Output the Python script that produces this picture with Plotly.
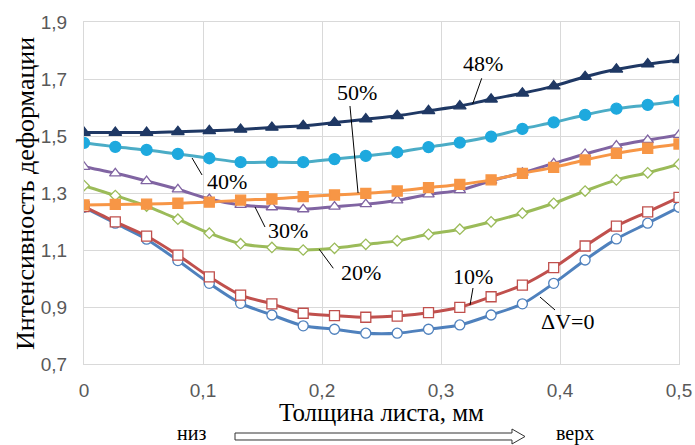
import plotly.graph_objects as go

# Sheet thickness positions, mm
thickness = [0.0, 0.0263, 0.0526, 0.0789, 0.1053, 0.1316, 0.1579, 0.1842, 0.2105, 0.2368,
             0.2632, 0.2895, 0.3158, 0.3421, 0.3684, 0.3947, 0.4211, 0.4474, 0.4737, 0.5]

# Strain intensity for each reduction
dv0 = [1.250, 1.194, 1.138, 1.063, 0.983, 0.913, 0.872, 0.834, 0.822, 0.808,
       0.808, 0.822, 0.837, 0.872, 0.911, 0.983, 1.065, 1.139, 1.194, 1.250]
red10 = [1.252, 1.199, 1.149, 1.082, 1.006, 0.942, 0.911, 0.878, 0.870, 0.864,
         0.868, 0.880, 0.899, 0.936, 0.977, 1.038, 1.114, 1.184, 1.234, 1.285]
red20 = [1.326, 1.291, 1.254, 1.208, 1.159, 1.122, 1.109, 1.100, 1.106, 1.120,
         1.132, 1.155, 1.173, 1.199, 1.229, 1.264, 1.307, 1.346, 1.371, 1.401]
red30 = [1.392, 1.369, 1.342, 1.313, 1.279, 1.258, 1.250, 1.243, 1.252, 1.261,
         1.274, 1.295, 1.310, 1.343, 1.371, 1.404, 1.437, 1.466, 1.486, 1.504]
red50 = [1.258, 1.260, 1.261, 1.264, 1.268, 1.275, 1.279, 1.287, 1.293, 1.299,
         1.307, 1.319, 1.330, 1.346, 1.369, 1.390, 1.416, 1.439, 1.457, 1.472]
red40 = [1.476, 1.462, 1.451, 1.437, 1.422, 1.408, 1.408, 1.408, 1.419, 1.430,
         1.443, 1.461, 1.477, 1.498, 1.525, 1.548, 1.574, 1.596, 1.609, 1.624]
red48 = [1.512, 1.512, 1.512, 1.515, 1.518, 1.523, 1.530, 1.536, 1.547, 1.559,
         1.571, 1.588, 1.605, 1.629, 1.650, 1.675, 1.708, 1.734, 1.752, 1.767]

x_ticks = [0, 0.1, 0.2, 0.3, 0.4, 0.5]
x_tick_text = ["0", "0,1", "0,2", "0,3", "0,4", "0,5"]
y_ticks = [0.7, 0.9, 1.1, 1.3, 1.5, 1.7, 1.9]
y_tick_text = ["0,7", "0,9", "1,1", "1,3", "1,5", "1,7", "1,9"]

SERIF = "Liberation Serif, Times New Roman, serif"
SANS = "Liberation Sans, Arial, sans-serif"

fig = go.Figure()

def add_series(y, line_color, symbol, marker_fill, marker_line, size, name):
    fig.add_trace(go.Scatter(
        x=thickness, y=y, name=name, mode="lines+markers",
        line=dict(color=line_color, width=3, shape="spline", smoothing=0.8),
        marker=dict(symbol=symbol, size=size, color=marker_fill,
                    line=dict(color=marker_line, width=1.3)),
        showlegend=False,
    ))

add_series(dv0, "#4F81BD", "circle", "white", "#4F81BD", 10, "ΔV=0")
add_series(red10, "#C0504D", "square", "white", "#C0504D", 10, "10%")
add_series(red20, "#9BBB59", "diamond", "white", "#9BBB59", 8, "20%")
add_series(red30, "#8064A2", "triangle-up", "white", "#8064A2", 10, "30%")
add_series(red50, "#F79646", "square", "#F79646", "#F79646", 10, "50%")
add_series(red40, "#4BACC6", "circle", "#1EA9DE", "#1EA9DE", 11, "40%")
add_series(red48, "#1F3864", "triangle-up", "#1F3864", "#1F3864", 11, "48%")

# Curve labels with thin leader lines
labels = [
    ("48%", 0.3353, 1.7561, (0.3342, 1.7025), (0.3266, 1.6123)),
    ("50%", 0.2294, 1.6544, (0.2235, 1.6053), (0.2303, 1.3000)),
    ("40%", 0.1202, 1.3421, (0.0908, 1.4228), (0.0992, 1.3632)),
    ("30%", 0.1714, 1.1667, (0.1437, 1.2509), (0.1521, 1.1807)),
    ("20%", 0.2328, 1.0228, (0.1977, 1.1025), (0.2095, 1.0358)),
    ("10%", 0.3269, 1.0053, (0.3269, 0.9667), (0.3244, 0.9070)),
    ("ΔV=0", 0.4067, 0.8474, (0.3832, 0.9350), (0.3958, 0.8895)),
]
for text, tx, ty, p0, p1 in labels:
    fig.add_annotation(x=tx, y=ty, xref="x", yref="y", text=text, showarrow=False,
                       xanchor="center", yanchor="middle",
                       font=dict(family=SERIF, size=22, color="black"))
    fig.add_shape(type="line", xref="x", yref="y", x0=p0[0], y0=p0[1], x1=p1[0], y1=p1[1],
                  line=dict(color="black", width=1))

# Axis titles
fig.add_annotation(x=-0.0992, y=0.5, xref="paper", yref="paper",
                   xanchor="center", yanchor="middle",
                   text="Интенсивность деформации", textangle=-90, showarrow=False,
                   font=dict(family=SERIF, size=26, color="black"))
fig.add_annotation(x=0.5, y=-0.1404, xref="paper", yref="paper",
                   xanchor="center", yanchor="middle",
                   text="Толщина листа, мм", showarrow=False,
                   font=dict(family=SERIF, size=25, color="black"))

# Bottom-to-top direction hint
fig.add_annotation(x=0.1815, y=-0.2018, xref="paper", yref="paper", text="низ",
                   xanchor="center", yanchor="middle",
                   showarrow=False, font=dict(family=SERIF, size=20, color="black"))
fig.add_annotation(x=0.825, y=-0.2018, xref="paper", yref="paper", text="верх",
                   xanchor="center", yanchor="middle",
                   showarrow=False, font=dict(family=SERIF, size=20, color="black"))
fig.add_shape(type="path", xref="paper", yref="paper",
              path="M 0.2538 -0.2018 L 0.7193 -0.2018 L 0.7193 -0.1901 L 0.7412 -0.2120 "
                   "L 0.7193 -0.2339 L 0.7193 -0.2222 L 0.2538 -0.2222 Z",
              line=dict(color="#333333", width=1), fillcolor="white")

grid = "#D9D9D9"
fig.update_xaxes(range=[0, 0.5], tickvals=x_ticks, ticktext=x_tick_text, automargin=False,
                 showgrid=True, gridcolor=grid, gridwidth=1, zeroline=False,
                 showline=True, linecolor=grid, mirror=True,
                 ticks="outside", ticklen=0, ticklabelstandoff=9,
                 tickfont=dict(family=SANS, size=19, color="#595959"))
fig.update_yaxes(range=[0.7, 1.9], tickvals=y_ticks, ticktext=y_tick_text, automargin=False,
                 showgrid=True, gridcolor=grid, gridwidth=1, zeroline=False,
                 showline=True, linecolor=grid, mirror=True,
                 ticks="outside", ticklen=0, ticklabelstandoff=12,
                 tickfont=dict(family=SANS, size=19, color="#595959"))

fig.update_layout(width=695, height=445,
                  margin=dict(l=84, r=16, t=22, b=81, autoexpand=False),
                  paper_bgcolor="white", plot_bgcolor="white")

fig.write_html("out.html")
